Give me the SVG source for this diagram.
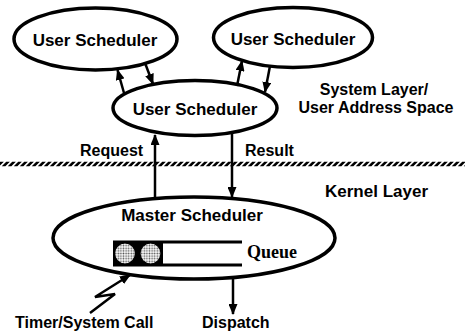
<svg xmlns="http://www.w3.org/2000/svg" width="465" height="335" viewBox="0 0 465 335">
  <style>
    .node { fill: #fff; stroke: #000; stroke-width: 3.5; }
    .lbl { font-family: "Liberation Sans", Arial, sans-serif; font-weight: bold; fill: #000; }
    .serif { font-family: "Liberation Serif", "Times New Roman", serif; font-weight: bold; fill: #000; }
    .conn { stroke: #000; stroke-width: 2.5; fill: none; marker-end: url(#ah); }
  </style>
  <defs>
    <marker id="ah" markerUnits="userSpaceOnUse" markerWidth="11" markerHeight="9" refX="10" refY="4.5" orient="auto">
      <path d="M0,0 L11,4.5 L0,9 z" fill="#000"/>
    </marker>
    <pattern id="dots" width="2.6" height="2.6" patternUnits="userSpaceOnUse">
      <rect width="2.6" height="2.6" fill="#fff"/>
      <circle cx="1.3" cy="1.3" r="0.85" fill="#555"/>
    </pattern>
  </defs>
  <rect width="465" height="335" fill="#fff"/>

  <g id="node-user-left">
    <ellipse class="node" cx="95.5" cy="39" rx="81.5" ry="31"/>
    <text class="lbl" x="95" y="46" font-size="17" text-anchor="middle">User Scheduler</text>
  </g>
  <g id="node-user-right">
    <ellipse class="node" cx="293" cy="37.5" rx="79.5" ry="30"/>
    <text class="lbl" x="293" y="45" font-size="17" text-anchor="middle">User Scheduler</text>
  </g>
  <g id="node-user-mid">
    <ellipse class="node" cx="195" cy="108" rx="82" ry="27.5"/>
    <text class="lbl" x="195" y="115" font-size="17" text-anchor="middle">User Scheduler</text>
  </g>
  <g id="node-master">
    <ellipse class="node" cx="194" cy="238" rx="141" ry="41"/>
    <text class="lbl" x="192" y="221" font-size="17" text-anchor="middle">Master Scheduler</text>
    <rect x="113" y="241" width="50" height="25" fill="#000"/>
    <line x1="113" y1="242" x2="242" y2="242" stroke="#000" stroke-width="3"/>
    <line x1="113" y1="265" x2="242" y2="265" stroke="#000" stroke-width="3"/>
    <circle cx="125" cy="253.5" r="10.5" fill="url(#dots)" stroke="#000" stroke-width="1.2"/>
    <circle cx="150.5" cy="253.5" r="10.5" fill="url(#dots)" stroke="#000" stroke-width="1.2"/>
    <text class="serif" x="247" y="258" font-size="18">Queue</text>
  </g>

  <g id="connectors">
    <line class="conn" x1="124" y1="93" x2="117.5" y2="70"/>
    <line class="conn" x1="145" y1="63" x2="153" y2="84"/>
    <line class="conn" x1="237" y1="86" x2="242" y2="61"/>
    <line class="conn" x1="270" y1="66" x2="265" y2="92"/>
    <line class="conn" x1="155" y1="198" x2="155" y2="135"/>
    <line class="conn" x1="232" y1="134" x2="232" y2="197"/>
    <line class="conn" x1="233" y1="279" x2="233" y2="314"/>
    <polyline class="conn" stroke-width="3" points="90,313 115,294 95,297 130,275"/>
  </g>

  <g id="layer-divider">
    <line x1="0" y1="0" x2="470" y2="0" stroke="#000" stroke-width="4.5" stroke-dasharray="3.6 2.4" transform="translate(-2,164) skewX(-45)"/>
  </g>

  <g id="labels">
    <text class="lbl" x="80" y="156" font-size="16">Request</text>
    <text class="lbl" x="245" y="156" font-size="16">Result</text>
    <text class="lbl" x="374" y="95" font-size="16" text-anchor="middle">System Layer/</text>
    <text class="lbl" x="376" y="113" font-size="16" text-anchor="middle">User Address Space</text>
    <text class="lbl" x="325" y="197" font-size="17">Kernel Layer</text>
    <text class="lbl" x="15" y="328" font-size="16">Timer/System Call</text>
    <text class="lbl" x="202" y="328" font-size="16">Dispatch</text>
  </g>
</svg>
